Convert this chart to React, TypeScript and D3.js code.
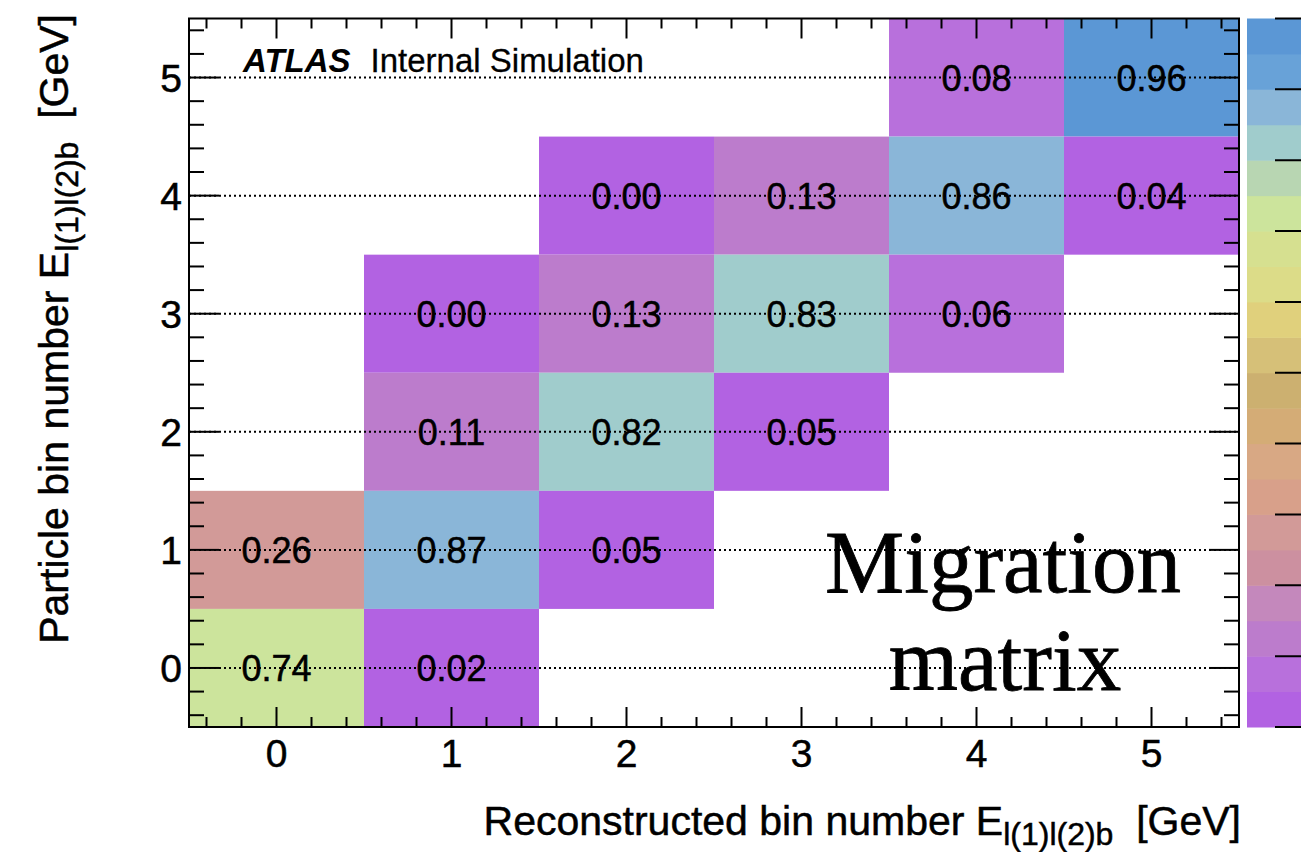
import React from "react";
import * as d3 from "d3";

// ---- data ----
const recoBins = [0, 1, 2, 3, 4, 5];
const particleBins = [0, 1, 2, 3, 4, 5];
// migration matrix cells: reco bin, particle bin, fraction
const cellReco = [4, 5, 2, 3, 4, 5, 1, 2, 3, 4, 1, 2, 3, 0, 1, 2, 0, 1];
const cellParticle = [5, 5, 4, 4, 4, 4, 3, 3, 3, 3, 2, 2, 2, 1, 1, 1, 0, 0];
const cellValue = [0.08, 0.96, 0.003, 0.13, 0.86, 0.04, 0.003, 0.13, 0.83, 0.06, 0.11, 0.82, 0.049, 0.26, 0.87, 0.049, 0.74, 0.02];
// palette from 0 (bottom) to 1 (top), 20 bands
const palette = [
  "#b262e2", "#b870dc", "#bc7ccc", "#c488bc", "#cc90a0",
  "#d29a98", "#d8a08a", "#d8a884", "#d4ac76", "#ccb070",
  "#d6c078", "#e0d07c", "#dcdc88", "#d6e090", "#cce49c",
  "#b8d6b2", "#a0cccc", "#8ab6d8", "#68a2d8", "#5b97d5",
];
const colorTicks = [0, 0.1, 0.2, 0.3, 0.4, 0.5, 0.6, 0.7, 0.8, 0.9, 1.0];

const W = 1301, H = 852;
const L = 189, R = 1239, T = 18.5, B = 727;
const SANS = "'Liberation Sans', Arial, Helvetica, sans-serif";
const SERIF = "'Liberation Serif', 'Times New Roman', serif";

export default function App() {
  const x = d3.scaleLinear().domain([-0.5, 5.5]).range([L, R]);
  const y = d3.scaleLinear().domain([-0.5, 5.5]).range([B, T]);
  const color = d3.scaleQuantize<string>().domain([0, 1]).range(palette);
  const cy = d3.scaleLinear().domain([0, 1]).range([B, T]);
  const fmt = d3.format(".2f");

  const minor = d3.range(-0.4, 5.5, 0.2).map((v) => Math.round(v * 10) / 10);
  const isMajor = (v: number) => Math.abs(v - Math.round(v)) < 1e-6;

  const cells = cellValue.map((v, i) => ({ v, rx: cellReco[i], py: cellParticle[i] }));
  const bandEdges = d3.range(0, palette.length + 1).map((i) => i / palette.length);
  const heavy = { stroke: "#000", strokeWidth: 0.5 };

  return (
    <svg width={W} height={H} style={{ position: "absolute", left: 0, top: 0, background: "#fff" }}>
      {/* colorbar */}
      {palette.map((c, i) => (
        <rect key={"cb" + i} x={1247} y={cy(bandEdges[i + 1])} width={100}
          height={cy(bandEdges[i]) - cy(bandEdges[i + 1]) + 0.5} fill={c} />
      ))}
      {colorTicks.map((t) => (
        <line key={"ct" + t} x1={1275} x2={1320} y1={cy(t)} y2={cy(t)} stroke="#000" strokeWidth={2} />
      ))}

      {/* cells */}
      {cells.map((c, i) => (
        <rect key={"c" + i} x={x(c.rx - 0.5)} y={y(c.py + 0.5)}
          width={x(c.rx + 0.5) - x(c.rx - 0.5)} height={y(c.py - 0.5) - y(c.py + 0.5)}
          fill={color(c.v)} />
      ))}

      {/* grid lines */}
      {particleBins.map((p) => (
        <line key={"g" + p} x1={L} x2={R} y1={y(p)} y2={y(p)} stroke="#000"
          strokeWidth={2} strokeDasharray="2,3" />
      ))}

      {/* cell labels */}
      {cells.map((c, i) => (
        <text key={"t" + i} x={x(c.rx)} y={y(c.py)} dy="0.36em" textAnchor="middle"
          fontFamily={SANS} fontSize={36} fill="#000" {...heavy}>{fmt(c.v)}</text>
      ))}

      {/* frame */}
      <rect x={L} y={T} width={R - L} height={B - T} fill="none" stroke="#000" strokeWidth={2} />

      {/* ticks */}
      {minor.map((v) => {
        const m = isMajor(v);
        const lx = m ? 20 : 10;
        const ly = m ? 30 : 15;
        return (
          <g key={"tk" + v} stroke="#000" strokeWidth={2}>
            <line x1={x(v)} x2={x(v)} y1={B} y2={B - lx} />
            <line x1={x(v)} x2={x(v)} y1={T} y2={T + lx} />
            <line x1={L} x2={L + ly} y1={y(v)} y2={y(v)} />
            <line x1={R} x2={R - ly} y1={y(v)} y2={y(v)} />
          </g>
        );
      })}

      {/* tick labels */}
      {recoBins.map((b) => (
        <text key={"xl" + b} x={x(b)} y={767} textAnchor="middle" fontFamily={SANS} fontSize={39} {...heavy}>{b}</text>
      ))}
      {particleBins.map((b) => (
        <text key={"yl" + b} x={182} y={y(b)} dy="0.36em" textAnchor="end" fontFamily={SANS} fontSize={39} {...heavy}>{b}</text>
      ))}

      {/* axis titles */}
      <text x={1241} y={835} textAnchor="end" fontFamily={SANS} fontSize={41} xmlSpace="preserve" {...heavy}>
        Reconstructed bin number E
        <tspan fontSize={32} dy={10}>l(1)l(2)b</tspan>
        <tspan dy={-10}>{"  [GeV]"}</tspan>
      </text>
      <text transform="translate(68,14) rotate(-90)" textAnchor="end" fontFamily={SANS} fontSize={41} xmlSpace="preserve" {...heavy}>
        Particle bin number E
        <tspan fontSize={32} dy={10}>l(1)l(2)b</tspan>
        <tspan dy={-10}>{"  [GeV]"}</tspan>
      </text>

      {/* ATLAS label */}
      <text x={243} y={72} fontFamily={SANS} fontSize={33}>
        <tspan fontWeight="bold" fontStyle="italic">ATLAS</tspan>
        <tspan dx={20} {...heavy} strokeWidth={0.3}>Internal Simulation</tspan>
      </text>

      {/* annotation */}
      <text x={1003} y={592} textAnchor="middle" fontFamily={SERIF} fontSize={89} stroke="#000" strokeWidth={0.8}>Migration</text>
      <text x={1005} y={690} textAnchor="middle" fontFamily={SERIF} fontSize={89} stroke="#000" strokeWidth={0.8}>matrix</text>
    </svg>
  );
}
